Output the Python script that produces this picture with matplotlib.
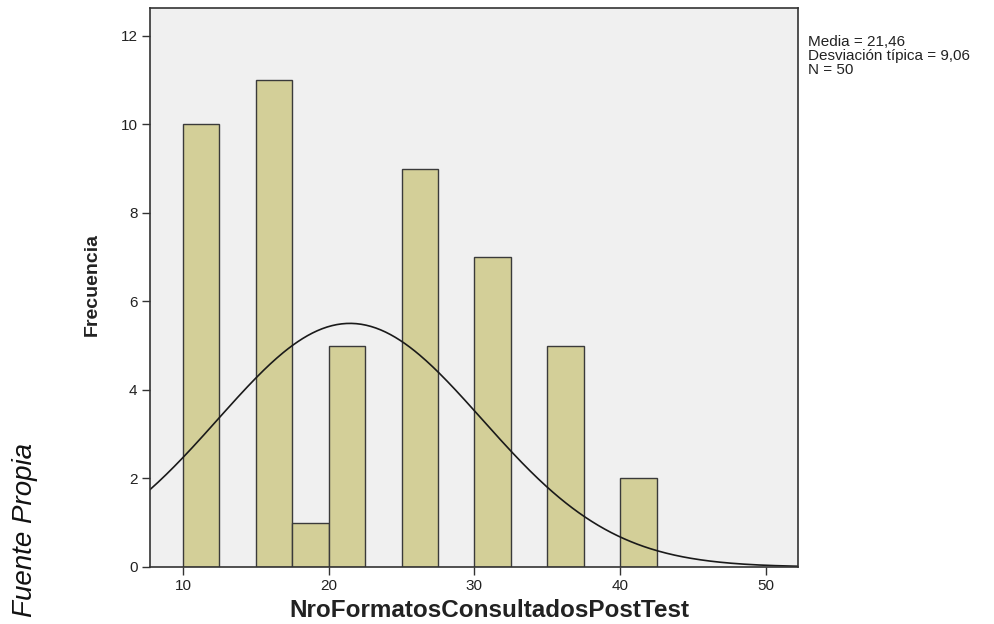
import matplotlib

matplotlib.use("Agg")
import matplotlib.pyplot as plt
import numpy as np

plt.rcParams["font.family"] = ["Liberation Sans", "DejaVu Sans"]

BG_AX = "#f0f0f0"
BAR = "#d3cf98"
EDGE = "#3a3a3a"
TEXT = "#222222"

# histogram bins (left edges, width 2.5) and frequencies
bin_left = [10.0, 15.0, 17.5, 20.0, 25.0, 30.0, 35.0, 40.0]
freq = [10, 11, 1, 5, 9, 7, 5, 2]
bin_width = 2.5

mean = 21.46
sd = 9.06
n = 50
stats_lines = ["Media = 21,46", "Desviación típica = 9,06", "N = 50"]

fig = plt.figure(figsize=(9.94, 6.24), dpi=100, facecolor="white")
ax = fig.add_axes([150 / 994, 57 / 624, 648 / 994, 559 / 624])
ax.set_facecolor(BG_AX)

ax.bar(bin_left, freq, width=bin_width, align="edge", color=BAR,
       edgecolor=EDGE, linewidth=1.0)

# fitted normal curve scaled to counts
xs = np.linspace(7.74, 52.2, 400)
ys = n * bin_width / (sd * np.sqrt(2 * np.pi)) * np.exp(-0.5 * ((xs - mean) / sd) ** 2)
ax.plot(xs, ys, color="#1a1a1a", linewidth=1.2)

ax.set_xlim(7.74, 52.2)
ax.set_ylim(0, 12.63)
ax.set_xticks([10, 20, 30, 40, 50])
ax.set_yticks([0, 2, 4, 6, 8, 10, 12])
ax.tick_params(direction="out", length=6, width=1, colors="#333333",
               labelsize=11, labelcolor=TEXT, top=False, right=False, pad=3)
for spine in ax.spines.values():
    spine.set_color("#333333")
    spine.set_linewidth(1.2)

fig.text(489 / 994, 1 - 617 / 624, "NroFormatosConsultadosPostTest", fontsize=17.5,
         fontweight="bold", color=TEXT, ha="center", va="baseline")
fig.text(92 / 994, 1 - 285 / 624, "Frecuencia", fontsize=14, fontweight="bold",
         color=TEXT, rotation=90, ha="center", va="center")

for i, line in enumerate(stats_lines):
    fig.text(808 / 994, 1 - (42 + 14 * i) / 624, line, fontsize=11, color=TEXT,
             va="center", ha="left")

fig.text(25 / 994, 1 - 530 / 624, "Fuente Propia", rotation=90, fontsize=20,
         style="italic", color="#111111", ha="center", va="center")

fig.savefig("out.png", dpi=100, facecolor="white")
plt.close(fig)
